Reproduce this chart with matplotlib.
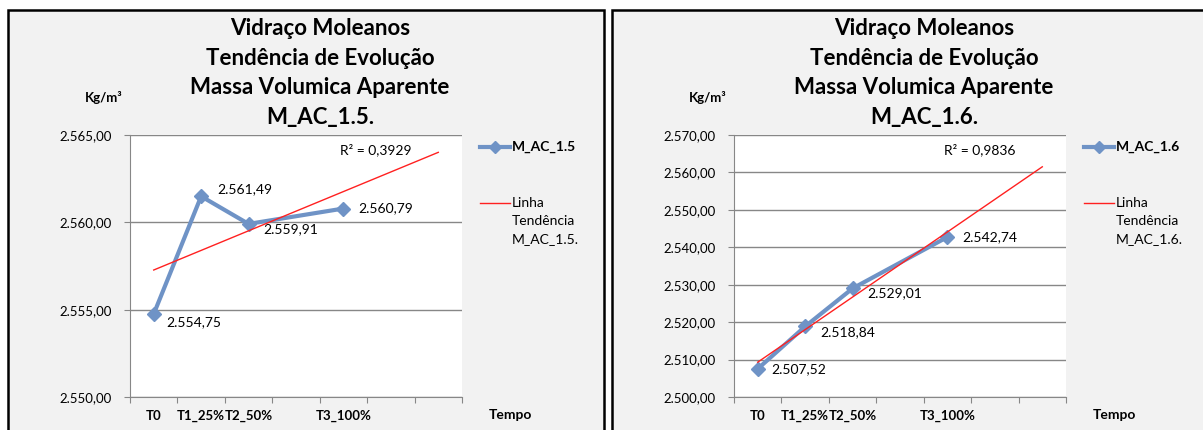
import matplotlib.pyplot as plt
import numpy as np
from matplotlib.lines import Line2D
from matplotlib.patches import Rectangle
from matplotlib.ticker import FuncFormatter, MultipleLocator, FixedLocator

plt.rcParams['font.family'] = ['Lato', 'DejaVu Sans']

W, H = 1203, 430

# data (blank categories are empty Excel columns)
categories = ['T0', 'T1_25%', 'T2_50%', '', 'T3_100%', '', '']
m_ac_15 = [2554.75, 2561.49, 2559.91, None, 2560.79, None, None]
m_ac_16 = [2507.52, 2518.84, 2529.01, None, 2542.74, None, None]
# R² as printed by the spreadsheet
r2_15 = 0.3929
r2_16 = 0.9836

blue = '#6f93c6'
gray = '#878787'


def px(x, y):
    return x / W, 1 - y / H


def br(v):
    s = f"{v:,.2f}"
    return s.replace(',', 'X').replace('.', ',').replace('X', '.')


def panel(fig, left, name, values, r2, ylim, ystep, lab_off):
    # frame of the chart object
    fig.add_artist(Rectangle(((left - 122) / W, -0.1), 596 / W, 1.1 - 10 / H,
                             transform=fig.transFigure, facecolor='#f2f2f2',
                             edgecolor='black', lw=1.8, zorder=0))
    ax = fig.add_axes([left / W, 33 / H, 332 / W, 262 / H])
    ax.set_facecolor('white')

    x = np.arange(1, len(categories) + 1)
    y = np.array([np.nan if v is None else v for v in values])
    ok = ~np.isnan(y)
    ax.plot(x[ok], y[ok], color=blue, lw=3, marker='D', ms=7.5, zorder=3)

    # linear trend line, extended over the empty categories
    k, b = np.polyfit(x[ok], y[ok], 1)
    ax.plot(x, k * x + b, color='#ff2020', lw=1, zorder=4)
    ax.text(0.74, 0.945, 'R² = ' + f"{r2:.4f}".replace('.', ','),
            transform=ax.transAxes, ha='center', va='center', fontsize=10)

    for xi, yi, (dx, dy) in zip(x[ok], y[ok], lab_off):
        ax.annotate(br(yi), (xi, yi), xytext=(dx * 0.72, -dy * 0.72),
                    textcoords='offset points', ha='left', va='center',
                    fontsize=10)

    ax.set_xlim(0.5, len(categories) + 0.5)
    ax.set_ylim(*ylim)
    ax.yaxis.set_major_locator(MultipleLocator(ystep))
    ax.yaxis.set_major_formatter(FuncFormatter(lambda v, p: br(v)))
    ax.xaxis.set_major_locator(FixedLocator(np.arange(0.5, len(categories) + 1)))
    ax.xaxis.set_major_formatter(FuncFormatter(lambda v, p: ''))
    ax.xaxis.set_minor_locator(FixedLocator(x))
    ax.set_xticklabels(categories, minor=True, fontweight='bold', fontsize=9.5)
    ax.tick_params(axis='x', which='minor', length=0, pad=9)
    ax.tick_params(axis='both', which='major', length=4, color=gray,
                   labelsize=9.5, direction='out')
    ax.tick_params(axis='y', pad=9)
    ax.grid(axis='y', color=gray, lw=1)
    ax.set_axisbelow(True)
    for s in ['top', 'right']:
        ax.spines[s].set_visible(False)
    for s in ['left', 'bottom']:
        ax.spines[s].set_color(gray)

    # title and axis captions
    cx = left + 190
    fig.text(*px(cx, 73), 'Vidraço Moleanos\nTendência de Evolução\n'
             'Massa Volumica Aparente\n' + name + '.',
             ha='center', va='center', fontsize=16, fontweight='bold',
             linespacing=1.52)
    fig.text(*px(left - 26, 97), 'Kg/m³', ha='center', va='center',
             fontsize=9.5, fontweight='bold')
    fig.text(*px(left + 380, 415), 'Tempo', ha='center', va='center',
             fontsize=10, fontweight='bold')

    # legend
    lx = left + 350
    fig.add_artist(Line2D([lx / W, (lx + 15) / W, (lx + 30) / W], [1 - 147 / H] * 3,
                          color=blue, lw=3, marker='D', ms=6, markevery=[1]))
    fig.text(*px(lx + 32, 147), name, ha='left', va='center', fontsize=10,
             fontweight='bold')
    fig.add_artist(Line2D([lx / W, (lx + 30) / W], [1 - 203 / H] * 2,
                          color='#ff2020', lw=1))
    fig.text(*px(lx + 32, 197), 'Linha\nTendência\n' + name + '.',
             ha='left', va='top', fontsize=10, linespacing=1.6)
    return ax


fig = plt.figure(figsize=(W / 100, H / 100), dpi=100, facecolor='white')

panel(fig, 130, 'M_AC_1.5', m_ac_15, r2_15, (2550, 2565), 5,
      [(13, 8), (16, -7), (15, 5), (15, 0)])
panel(fig, 734, 'M_AC_1.6', m_ac_16, r2_16, (2500, 2570), 10,
      [(14, 0), (15, 6), (15, 5), (15, 0)])

fig.savefig('out.png', dpi=100, facecolor='white')
